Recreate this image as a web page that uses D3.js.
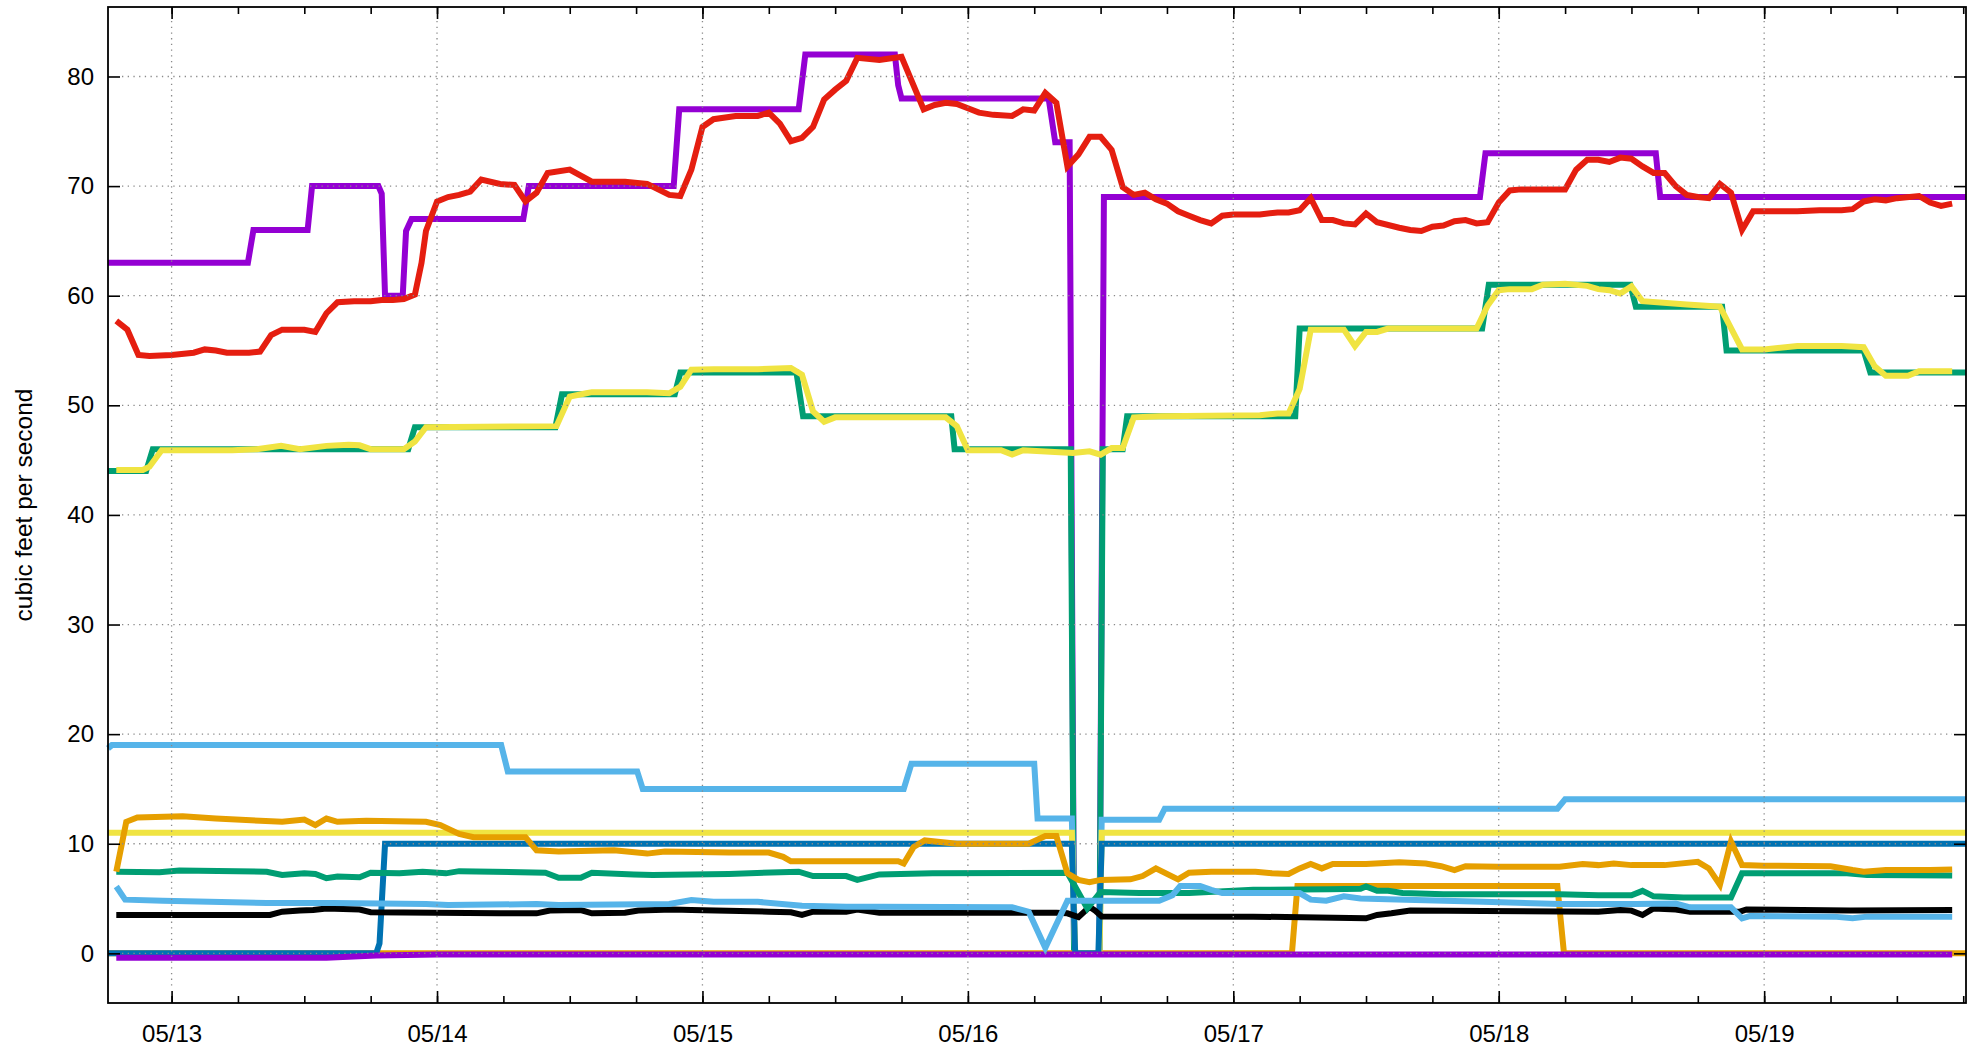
<!DOCTYPE html>
<html>
<head>
<meta charset="utf-8">
<script src="https://cdn.jsdelivr.net/npm/d3@7/dist/d3.min.js"></script>
<style>
  body { margin: 0; background: #ffffff; }
  svg text { font-family: "Liberation Sans", Arial, Helvetica, sans-serif; fill: #000; }
</style>
</head>
<body>
<svg id="flowGraph"></svg>
<script>
// all series: [hours after 05/13 00:00, cubic feet per second]
var purpleTarget = [[-5.75,63],[6.9,63],[7.4,66],[12.3,66],[12.7,70],[18.7,70],[19.0,69.3],[19.3,60],[20.9,60],[21.2,65.9],[21.7,67],[31.8,67],[32.3,70],[45.4,70],[45.9,77],[56.7,77],[57.3,82],[65.4,82],[65.7,79.2],[66.0,78],[79.3,78],[79.9,74],[81.2,74],[81.6,0],[83.9,0],[84.3,69],[118.3,69],[118.8,73],[134.2,73],[134.6,69],[162.25,69]];
var greenTarget = [[-5.75,44],[-2.3,44],[-1.7,46],[21.4,46],[22.0,48],[34.7,48],[35.3,51],[45.5,51],[46.0,53],[56.5,53],[57.1,49],[70.5,49],[70.8,46],[81.3,46],[81.6,0],[83.9,0],[84.2,46],[86.0,46],[86.4,49],[101.6,49],[102.0,57],[118.5,57],[119.1,61],[131.9,61],[132.4,59],[140.2,59],[140.6,55],[153.0,55],[153.6,53],[162.25,53]];
var skyTarget = [[-5.75,18.7],[-5.4,19],[29.8,19],[30.4,16.6],[42.1,16.6],[42.6,15],[66.2,15],[66.9,17.3],[78.0,17.3],[78.3,12.3],[81.4,12.3],[81.7,0],[83.9,0],[84.1,12.2],[89.3,12.2],[89.8,13.2],[125.3,13.2],[126.0,14.05],[162.25,14.05]];
var orangeTarget = [[-5.75,0],[101.3,0],[101.8,6.15],[125.3,6.15],[125.9,0],[162.25,0]];
var yellowTarget = [[-5.75,11],[81.4,11],[81.7,0],[83.9,0],[84.1,11],[162.25,11]];
var blueTarget = [[-5.75,0],[18.5,0],[18.8,0.9],[19.3,10],[81.4,10],[81.7,0],[83.8,0],[84.1,10],[162.25,10]];

var redFlow = [[-5,57.7],[-4,56.9],[-3,54.6],[-2,54.5],[0,54.6],[2,54.8],[3,55.1],[4,55.0],[5,54.8],[7,54.8],[8,54.9],[9,56.4],[10,56.9],[12,56.9],[13,56.7],[14,58.4],[15,59.4],[16.5,59.5],[18,59.5],[19,59.6],[20,59.6],[21,59.7],[22,60.1],[22.6,63.0],[23,65.9],[24,68.6],[25,69.0],[26,69.2],[27,69.5],[28,70.6],[29.7,70.2],[31,70.1],[32,68.6],[33,69.4],[34,71.2],[36,71.5],[38,70.4],[41,70.4],[43,70.2],[45,69.2],[46,69.1],[47,71.5],[48,75.4],[49,76.1],[51,76.4],[53,76.4],[54,76.7],[55,75.7],[56,74.1],[57,74.4],[58,75.4],[59,77.9],[60,78.8],[61,79.6],[62,81.7],[64,81.5],[66,81.8],[67,79.4],[68,77.0],[69,77.4],[70,77.6],[71,77.5],[72,77.1],[73,76.7],[74.3,76.5],[76,76.4],[77,77.0],[78,76.9],[79,78.5],[80,77.6],[81,71.8],[82,72.9],[83,74.5],[84,74.5],[85,73.3],[86,69.9],[87,69.2],[88,69.4],[89,68.8],[90,68.4],[91,67.7],[92,67.3],[93,66.9],[94,66.6],[95,67.3],[96,67.4],[98.4,67.4],[100,67.6],[101,67.6],[102,67.8],[103,68.9],[104,66.9],[105,66.9],[106,66.6],[107,66.5],[108,67.5],[109,66.7],[111,66.2],[112,66.0],[113,65.9],[114,66.3],[115,66.4],[116,66.8],[117,66.9],[118,66.6],[119,66.7],[120,68.5],[121,69.6],[122,69.7],[126,69.7],[127,71.5],[128,72.4],[129,72.4],[130,72.2],[131,72.6],[132,72.5],[133,71.8],[134,71.2],[135,71.2],[136,70.0],[137,69.2],[138,69.0],[139,68.9],[140,70.2],[141,69.4],[142,66.0],[143,67.7],[144,67.7],[147,67.7],[149,67.8],[151,67.8],[152,67.9],[153,68.6],[154,68.8],[155,68.7],[156,68.9],[158,69.1],[159,68.5],[160,68.2],[161,68.4]];
var yellowFlow = [[-5,44.1],[-2.6,44.1],[-2,44.4],[-0.9,45.9],[5.5,45.9],[7.7,46.0],[9.9,46.3],[11.6,46.0],[14,46.3],[16,46.4],[17,46.35],[18,46.0],[21,46.0],[22,46.7],[23,48.0],[34.8,48.1],[36,50.8],[37.5,51.1],[38,51.2],[43,51.2],[45,51.1],[46,51.7],[47,53.25],[49,53.3],[53,53.3],[56,53.4],[57,52.8],[58,49.45],[59,48.5],[60,48.9],[70,48.9],[71,48.1],[72,45.9],[75,45.9],[76,45.5],[77,45.9],[81.5,45.65],[83,45.8],[84,45.5],[85,46.1],[86,46.1],[87,48.9],[89.4,49.0],[98.4,49.1],[100,49.25],[101,49.25],[102,51.5],[103,56.9],[106,56.9],[107,55.4],[108,56.7],[109,56.7],[110,57.0],[118,57.0],[119,59.1],[120,60.5],[121,60.6],[123,60.6],[124,61.0],[126,61.1],[128,60.9],[129,60.6],[130,60.5],[131,60.2],[132,60.85],[133,59.5],[137,59.2],[140,59.0],[141,57.05],[142,55.1],[144,55.1],[147,55.4],[151,55.4],[153,55.3],[154,53.55],[155,52.7],[157,52.7],[158,53.1],[161,53.1]];
var orangeFlow = [[-5,7.45],[-4.1,12.0],[-3.1,12.4],[1,12.5],[4,12.3],[8,12.1],[10,12.0],[12,12.2],[13,11.7],[14,12.3],[15,12.0],[17.6,12.1],[23,12.0],[24.3,11.7],[26,10.9],[27.3,10.6],[32,10.6],[33,9.4],[35,9.3],[40,9.4],[43,9.1],[44.6,9.3],[50.4,9.2],[54,9.2],[55.3,8.8],[56,8.4],[65.7,8.4],[66.2,8.2],[67.1,9.7],[68.1,10.3],[71,10.0],[77.5,10.0],[79,10.7],[80,10.7],[81,7.3],[82,6.7],[83,6.5],[84,6.7],[86.7,6.75],[87.8,7.05],[89,7.75],[91,6.75],[92,7.35],[94,7.45],[98,7.45],[99.5,7.3],[101,7.25],[102,7.75],[103,8.15],[104,7.75],[105,8.15],[108,8.15],[111,8.3],[113.4,8.2],[114.8,7.95],[116,7.6],[117,7.95],[120,7.9],[125.5,7.9],[127.6,8.15],[129,8.05],[130.4,8.2],[132,8.05],[135,8.05],[138,8.35],[139,7.75],[140,6.25],[141,10.2],[142,8.05],[144,8.0],[150,7.95],[152,7.6],[153,7.45],[155,7.6],[159,7.6],[161,7.65]];
var greenFlow = [[-5,7.45],[-1.1,7.4],[0.7,7.55],[8.6,7.45],[10,7.15],[12,7.3],[13,7.25],[14,6.85],[15,7.0],[17,6.95],[18,7.35],[20.6,7.3],[22.7,7.45],[24.8,7.3],[26,7.5],[33.8,7.35],[35,6.9],[37,6.9],[38,7.35],[41.8,7.2],[43.5,7.15],[50.4,7.25],[56.7,7.45],[58,7.05],[61,7.05],[62,6.7],[64,7.2],[68.8,7.3],[81,7.35],[82.8,4.1],[84,5.6],[87.5,5.5],[92,5.5],[97.8,5.8],[104.7,5.85],[107.5,5.9],[108,6.1],[109,5.7],[110,5.7],[111.3,5.5],[115,5.4],[125.5,5.4],[129,5.3],[132,5.3],[133,5.7],[134,5.2],[136.7,5.1],[141,5.1],[142,7.3],[151.5,7.3],[153.3,7.15],[161,7.1]];
var skyFlow = [[-5,6.1],[-4.2,4.9],[-0.8,4.8],[8.6,4.6],[14.6,4.6],[23,4.5],[25,4.4],[33,4.5],[35,4.4],[45,4.5],[47,4.87],[49,4.7],[53,4.7],[57,4.35],[61,4.26],[64,4.26],[76,4.2],[77.5,3.8],[79,0.5],[81,4.8],[89.3,4.8],[90.5,5.3],[91.2,6.15],[93,6.15],[94,5.8],[95,5.5],[102,5.5],[103,4.9],[104.4,4.8],[106,5.2],[107.5,5.0],[111.6,4.9],[118.6,4.7],[125.5,4.5],[132.4,4.5],[136,4.55],[137.3,4.2],[141,4.2],[142,3.2],[142.7,3.4],[150.3,3.35],[152,3.2],[153.3,3.35],[161,3.35]];
var blackFlow = [[-5,3.5],[8.9,3.5],[10,3.8],[11.6,3.9],[12.8,3.95],[14,4.1],[17,4.0],[18,3.75],[29.7,3.65],[33,3.65],[34.2,3.9],[37,3.95],[38,3.65],[41,3.7],[42.2,3.9],[45.3,4.0],[47,3.95],[54,3.8],[56,3.75],[57,3.5],[58,3.8],[61,3.8],[62,4.0],[64,3.7],[80,3.7],[81,3.65],[82,3.3],[83,4.25],[83.5,3.9],[84.1,3.37],[97.8,3.35],[108,3.2],[109,3.5],[110.3,3.65],[112,3.9],[118.6,3.86],[129,3.8],[131,3.95],[132,3.9],[133,3.5],[134,4.1],[136,4.0],[137.3,3.8],[141.8,3.8],[142.4,4.0],[151.8,3.9],[161,3.95]];
var purpleFlow = [[-5,-0.4],[14,-0.4],[18.5,-0.2],[24,-0.1],[161,-0.1]];

var dayLabels = ["05/13", "05/14", "05/15", "05/16", "05/17", "05/18", "05/19"];
var flowTicks = [0, 10, 20, 30, 40, 50, 60, 70, 80];
var xRangeHours = [-5.75, 162.25];
var yRange = [-4.53, 86.34];

// draw order: first one is at the bottom
var allSeries = [purpleTarget, greenTarget, skyTarget, orangeTarget, yellowTarget, blueTarget,
   redFlow, blackFlow, purpleFlow, greenFlow, skyFlow, orangeFlow, yellowFlow];
var seriesColors = ["#9400d3", "#009e73", "#56b4e9", "#e69f00", "#f0e442", "#0072b2",
   "#e51e10", "#000000", "#9400d3", "#009e73", "#56b4e9", "#e69f00", "#f0e442"];

var margin = { top: 7, right: 15, bottom: 49, left: 108 };
var width = 1981 - margin.left - margin.right,
   height = 1052 - margin.top - margin.bottom;
var tickLen = 12, minorLen = 7;

var svg = d3
   .select("svg#flowGraph")
   .attr("width", 1981)
   .attr("height", 1052)
   .append("g")
   .attr("transform", `translate(${margin.left}, ${margin.top})`);

var parseDay = d3.timeParse("%m/%d");
var startDay = parseDay(dayLabels[0]);
function toTime(h) {
   return d3.timeMinute.offset(startDay, Math.round(h * 60));
}

var x = d3.scaleTime().domain(xRangeHours.map(toTime)).range([0, width]);
var y = d3.scaleLinear().domain(yRange).range([height, 0]);

var dayTimes = dayLabels.map(function (d) {
   return parseDay(d);
});
// minor ticks every 6 hours
var quarterTimes = d3.timeHour.every(6).range(x.domain()[0], x.domain()[1]);

// lines
var line = d3
   .line()
   .x(function (d) {
      return x(toTime(d[0]));
   })
   .y(function (d) {
      return y(d[1]);
   });

svg.append("g")
   .selectAll("path")
   .data(allSeries)
   .enter()
   .append("path")
   .attr("fill", "none")
   .attr("stroke", function (d, i) {
      return seriesColors[i];
   })
   .attr("stroke-width", 6)
   .attr("stroke-linejoin", "miter")
   .attr("stroke-miterlimit", 4)
   .attr("d", line);

// dotted grid in front of the lines
var grid = svg.append("g").attr("stroke", "#8a8a8a").attr("stroke-width", 1.3).attr("stroke-dasharray", "1.3,4.4");
grid.selectAll(".vgrid")
   .data(dayTimes)
   .enter()
   .append("line")
   .attr("x1", x).attr("x2", x)
   .attr("y1", tickLen + 2).attr("y2", height - tickLen - 2);
grid.selectAll(".hgrid")
   .data(flowTicks)
   .enter()
   .append("line")
   .attr("y1", y).attr("y2", y)
   .attr("x1", tickLen + 2).attr("x2", width - tickLen - 2);

// axes, ticks pointing inward on all four sides
function styleAxis(g) {
   g.select(".domain").remove();
   g.selectAll(".tick line").attr("stroke", "#000").attr("stroke-width", 1.6);
   g.selectAll("text").style("font-size", "24px").attr("fill", "#000");
}

svg.append("g")
   .attr("transform", "translate(0," + height + ")")
   .call(d3.axisBottom(x).tickValues(quarterTimes).tickSizeInner(-minorLen).tickFormat(""))
   .call(styleAxis);
svg.append("g")
   .attr("transform", "translate(0," + height + ")")
   .call(d3.axisBottom(x).tickValues(dayTimes).tickSizeInner(-tickLen).tickSizeOuter(0).tickPadding(22).tickFormat(d3.timeFormat("%m/%d")))
   .call(styleAxis);
svg.append("g")
   .call(d3.axisTop(x).tickValues(quarterTimes).tickSizeInner(-minorLen).tickFormat(""))
   .call(styleAxis);
svg.append("g")
   .call(d3.axisTop(x).tickValues(dayTimes).tickSizeInner(-tickLen).tickFormat(""))
   .call(styleAxis);
svg.append("g")
   .call(d3.axisLeft(y).tickValues(flowTicks).tickSizeInner(-tickLen).tickSizeOuter(0).tickPadding(14))
   .call(styleAxis);
svg.append("g")
   .attr("transform", "translate(" + width + ",0)")
   .call(d3.axisRight(y).tickValues(flowTicks).tickSizeInner(-tickLen).tickFormat(""))
   .call(styleAxis);

// border
svg.append("rect")
   .attr("width", width)
   .attr("height", height)
   .attr("fill", "none")
   .attr("stroke", "#000")
   .attr("stroke-width", 1.8);

// y axis title
svg.append("text")
   .attr("transform", "translate(" + (26 - margin.left) + "," + height / 2 + ") rotate(-90)")
   .attr("text-anchor", "middle")
   .attr("dominant-baseline", "middle")
   .style("font-size", "24.5px")
   .text("cubic feet per second");
</script>
</body>
</html>
